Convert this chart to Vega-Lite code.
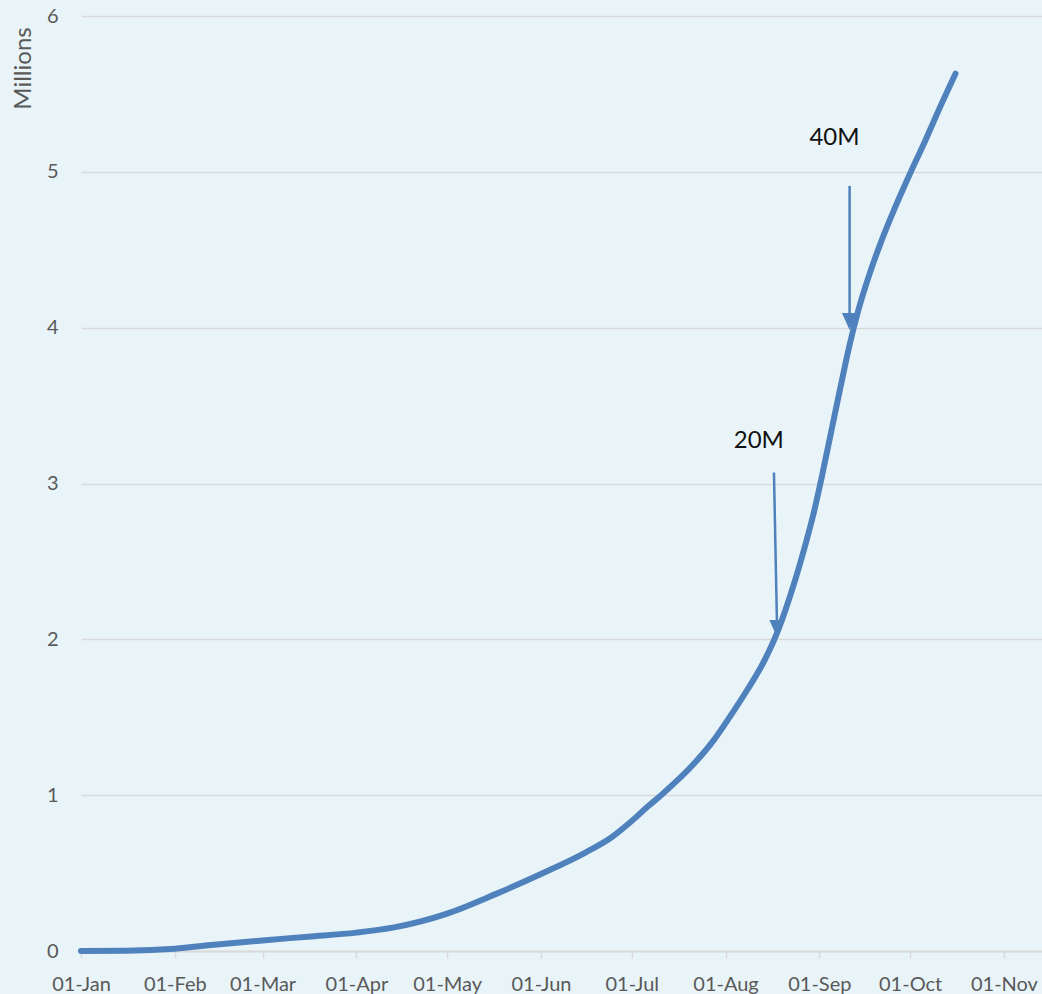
{
  "$schema": "https://vega.github.io/schema/vega-lite/v6.json",
  "width": 961,
  "height": 935,
  "autosize": {"type": "none"},
  "padding": {"left": 81, "top": 16, "right": 0, "bottom": 43},
  "background": "#e9f4f9",
  "config": {"view": {"stroke": null}, "font": "Lato"},
  "datasets": {
    "series": [
      {"date": "2020-01-01", "value": 0},
      {"date": "2020-01-16", "value": 0.002},
      {"date": "2020-02-01", "value": 0.015},
      {"date": "2020-02-14", "value": 0.04},
      {"date": "2020-03-01", "value": 0.068},
      {"date": "2020-03-16", "value": 0.092},
      {"date": "2020-04-01", "value": 0.118},
      {"date": "2020-04-13", "value": 0.15},
      {"date": "2020-05-01", "value": 0.24},
      {"date": "2020-05-17", "value": 0.365},
      {"date": "2020-06-01", "value": 0.494},
      {"date": "2020-06-16", "value": 0.635},
      {"date": "2020-06-24", "value": 0.725},
      {"date": "2020-07-01", "value": 0.834},
      {"date": "2020-07-06", "value": 0.922},
      {"date": "2020-07-11", "value": 1.005},
      {"date": "2020-07-21", "value": 1.19},
      {"date": "2020-07-28", "value": 1.35},
      {"date": "2020-08-03", "value": 1.52},
      {"date": "2020-08-08", "value": 1.67},
      {"date": "2020-08-14", "value": 1.87},
      {"date": "2020-08-18", "value": 2.04},
      {"date": "2020-08-21", "value": 2.2},
      {"date": "2020-08-24", "value": 2.38},
      {"date": "2020-08-27", "value": 2.58},
      {"date": "2020-08-30", "value": 2.8},
      {"date": "2020-09-02", "value": 3.06},
      {"date": "2020-09-05", "value": 3.34},
      {"date": "2020-09-08", "value": 3.62},
      {"date": "2020-09-11", "value": 3.89},
      {"date": "2020-09-14", "value": 4.12},
      {"date": "2020-09-17", "value": 4.31},
      {"date": "2020-09-21", "value": 4.53},
      {"date": "2020-09-26", "value": 4.77},
      {"date": "2020-10-01", "value": 4.99},
      {"date": "2020-10-06", "value": 5.2},
      {"date": "2020-10-11", "value": 5.42},
      {"date": "2020-10-16", "value": 5.63}
    ],
    "arrows": [
      {"date": "2020-08-17", "value": 3.07, "date2": "2020-08-18", "value2": 2.1},
      {"date": "2020-09-11", "value": 4.91, "date2": "2020-09-11", "value2": 4.08}
    ],
    "heads": [
      {"date": "2020-08-18", "value": 2.07},
      {"date": "2020-09-11", "value": 4.04}
    ],
    "labels": [
      {"date": "2020-08-12", "value": 3.27, "label": "20M"},
      {"date": "2020-09-06", "value": 5.22, "label": "40M"}
    ]
  },
  "encoding": {
    "x": {
      "field": "date", "type": "temporal",
      "scale": {"type": "utc", "domain": [{"year": 2020, "month": 1, "date": 1, "utc": true}, {"year": 2020, "month": 11, "date": 13, "hours": 14, "utc": true}]},
      "axis": {
        "title": null,
        "values": [
          {"year": 2020, "month": 1, "date": 1, "utc": true},
          {"year": 2020, "month": 2, "date": 1, "utc": true},
          {"year": 2020, "month": 3, "date": 1, "utc": true},
          {"year": 2020, "month": 4, "date": 1, "utc": true},
          {"year": 2020, "month": 5, "date": 1, "utc": true},
          {"year": 2020, "month": 6, "date": 1, "utc": true},
          {"year": 2020, "month": 7, "date": 1, "utc": true},
          {"year": 2020, "month": 8, "date": 1, "utc": true},
          {"year": 2020, "month": 9, "date": 1, "utc": true},
          {"year": 2020, "month": 10, "date": 1, "utc": true},
          {"year": 2020, "month": 11, "date": 1, "utc": true}
        ],
        "labelExpr": "utcFormat(datum.value, '%d-%b')",
        "grid": false,
        "labelFontSize": 20, "labelColor": "#595959", "labelPadding": 16,
        "labelOverlap": false, "labelFlush": false,
        "tickColor": "#d9d9d9", "tickSize": 7, "tickWidth": 1.5,
        "domainColor": "#d9d9d9", "domainWidth": 2
      }
    },
    "y": {
      "field": "value", "type": "quantitative",
      "scale": {"domain": [0, 6], "nice": false},
      "axis": {
        "title": "Millions", "titleX": -58, "titleY": 52, "titleAngle": 270,
        "titleAlign": "center", "titleBaseline": "middle",
        "titleFontSize": 24, "titleFontWeight": "normal", "titleColor": "#595959",
        "values": [0, 1, 2, 3, 4, 5, 6], "format": "d",
        "labelFontSize": 20, "labelColor": "#595959", "labelPadding": 23,
        "ticks": false, "tickSize": 0, "domain": false,
        "gridColor": "#d9d9d9", "gridWidth": 1.5
      }
    }
  },
  "layer": [
    {
      "data": {"name": "series"},
      "mark": {"type": "line", "color": "#4f81bd", "strokeWidth": 6, "interpolate": "monotone", "strokeCap": "round"}
    },
    {
      "data": {"name": "arrows"},
      "mark": {"type": "rule", "color": "#4f81bd", "strokeWidth": 2.5},
      "encoding": {
        "x2": {"field": "date2"},
        "y2": {"field": "value2"}
      }
    },
    {
      "data": {"name": "heads"},
      "mark": {"type": "point", "shape": "M-0.9,-1L0.9,-1L0,1Z", "filled": true, "color": "#4f81bd", "opacity": 1, "size": 289}
    },
    {
      "data": {"name": "labels"},
      "mark": {"type": "text", "fontSize": 24, "color": "#111111", "align": "center", "baseline": "middle", "font": "Lato"},
      "encoding": {
        "text": {"field": "label"}
      }
    }
  ]
}
